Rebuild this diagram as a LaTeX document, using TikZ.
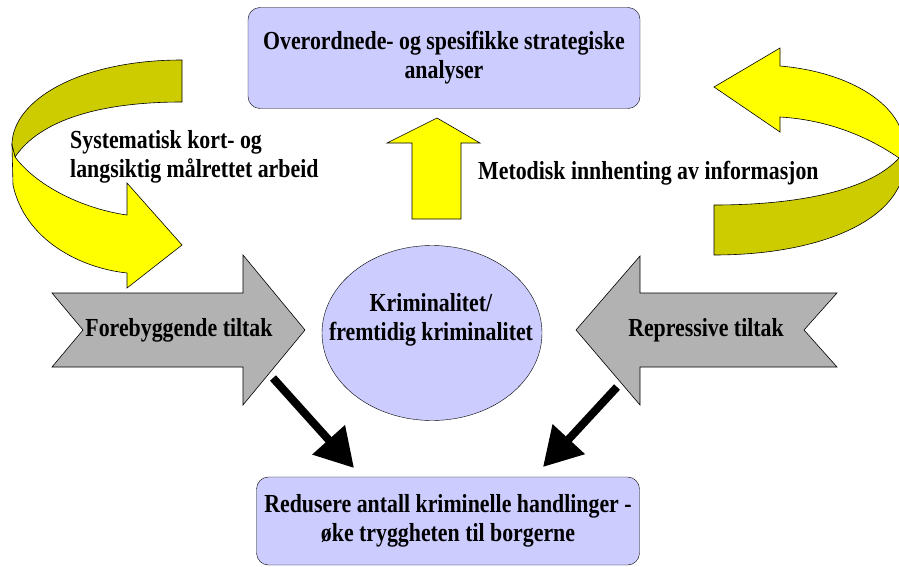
\documentclass[tikz,border=0pt]{standalone}
\usepackage{fontspec}
\setmainfont{Liberation Serif}[FakeStretch=0.84]
\usetikzlibrary{arrows.meta, shapes.geometric}

\definecolor{lavender}{RGB}{204,204,255}
\definecolor{brightyellow}{RGB}{255,255,0}
\definecolor{darkyellow}{RGB}{204,204,0}
\definecolor{arrowgray}{RGB}{178,178,178}

\tikzset{
	txt/.style = {font=\bfseries\fontsize{26}{29}\selectfont, align=center, inner sep=0pt},
	roundbox/.style = {draw, fill=lavender, rounded corners=12pt, txt},
	front/.style = {draw, fill=brightyellow, line width=0.6pt},
	back/.style = {draw, fill=darkyellow, line width=0.6pt},
	grayarrow/.style = {draw, fill=arrowgray, line width=0.6pt},
	bigarrow/.style = {line width=8pt, -{Triangle[length=38pt, width=42pt]}}
}

\begin{document}
\begin{tikzpicture}[x=1pt, y=-1pt]
	\useasboundingbox (0,0) rectangle (899,567);
	% left turning arrow
	\draw[back] (182,60) .. controls (80,60) and (12,100) .. (12,145) -- (15,157) .. controls (40,120) and (100,102) .. (182,102) -- cycle;
	\draw[front] (12,145) -- (13,185) .. controls (25,240) and (80,268) .. (127,273) -- (127,288) -- (182,245) -- (127,183) -- (127,215) .. controls (90,210) and (40,190) .. (15,157) -- cycle;
	% right turning arrow
	\draw[back] (899,158) .. controls (870,190) and (800,205) .. (714,205) -- (714,255) .. controls (820,255) and (905,220) .. (905,160) -- cycle;
	\draw[front] (780,66) .. controls (850,72) and (905,105) .. (905,150) -- (899,158) .. controls (870,138) and (830,120) .. (780,117) -- (780,132) -- (714,87) -- (780,48) -- cycle;
	% up arrow
	\draw[front] (412,219) -- (412,143) -- (387,143) -- (437,118) -- (480,143) -- (461,143) -- (461,219) -- cycle;
	% side arrows
	\draw[grayarrow] (52,293) -- (243,293) -- (243,255) -- (305,330) -- (243,405) -- (243,367) -- (52,367) -- (83,330) -- cycle;
	\draw[grayarrow] (837,293) -- (640,293) -- (640,256) -- (576,330) -- (640,405) -- (640,367) -- (837,367) -- (804,330) -- cycle;

	\node[roundbox, minimum width=392pt, minimum height=101pt] (analyser) at (444,58) {Overordnede- og spesifikke strategiske\\analyser};
	\node[roundbox, minimum width=383pt, minimum height=88pt] (resultat) at (448,521) {Redusere antall kriminelle handlinger -\\øke tryggheten til borgerne};
	\node[draw, ellipse, fill=lavender, minimum width=220pt, minimum height=175pt] (krim) at (432,333) {};
	\node[txt] (krimtekst) at (431,320) {Kriminalitet/\\fremtidig kriminalitet};

	\node[txt] (forebygg) at (179,330) {Forebyggende tiltak};
	\node[txt] (repress) at (706,330) {Repressive tiltak};
	\node[txt, align=left, anchor=north west] (arbeid) at (70,130) {Systematisk kort- og\\langsiktig målrettet arbeid};
	\node[txt, anchor=base west] (metodisk) at (478,179) {Metodisk innhenting av informasjon};

	\coordinate (fstart) at (273,378);
	\coordinate (fend) at (354,468);
	\coordinate (rstart) at (617,387);
	\coordinate (rend) at (543,467);
	\draw[bigarrow] (fstart) -- (fend);
	\draw[bigarrow] (rstart) -- (rend);
\end{tikzpicture}
\end{document}
